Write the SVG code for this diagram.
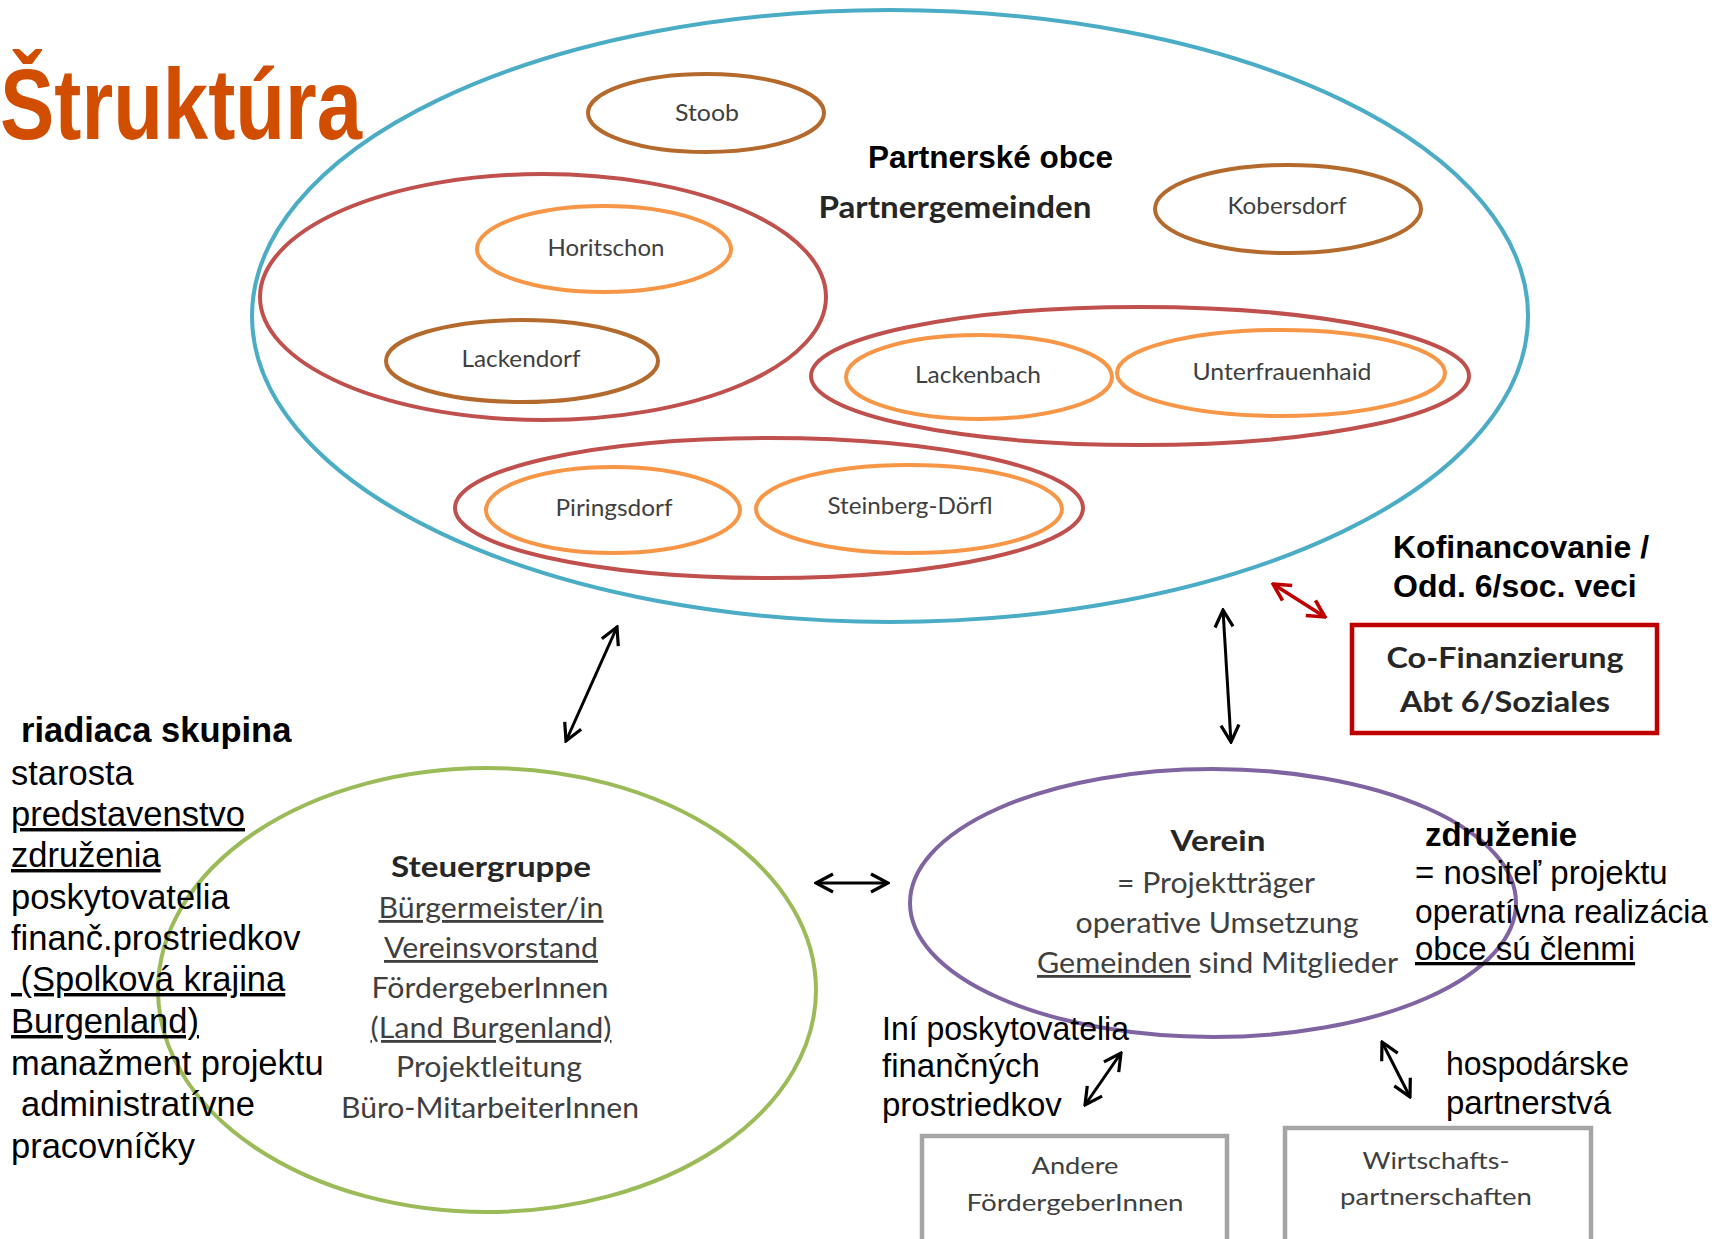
<svg xmlns="http://www.w3.org/2000/svg" width="1729" height="1239" viewBox="0 0 1729 1239">
<defs>
<style>
.cal{font-family:Lato,"Open Sans","Noto Sans",sans-serif;fill:#3f3f3f;text-anchor:middle}
.calb{font-family:Lato,"Open Sans","Noto Sans",sans-serif;font-weight:bold;fill:#262626;text-anchor:middle}
.ar{font-family:"Liberation Sans",Arial,sans-serif;fill:#000;font-size:34.5px}
.ar2{font-family:"Liberation Sans",Arial,sans-serif;fill:#000;font-size:33px}
.arb{font-family:"Liberation Sans",Arial,sans-serif;fill:#000;font-weight:bold}
.town{font-size:23px}
.big{fill:none;stroke-width:4}
.brown{fill:none;stroke:#B46A2C;stroke-width:4}
.orange{fill:none;stroke:#F79646;stroke-width:4}
.red{fill:none;stroke:#C0504D;stroke-width:4}
.conn{stroke:#000;stroke-width:3;fill:none}
.box{fill:#fff;stroke:#A5A5A5;stroke-width:4.5}
</style>
<marker id="ah" viewBox="0 0 24 24" refX="22" refY="12" markerWidth="24" markerHeight="24" markerUnits="userSpaceOnUse" orient="auto-start-reverse">
<path d="M5,3 L22,12 L5,21" fill="none" stroke="#000" stroke-width="3.2"/>
</marker>
<marker id="ahr" viewBox="0 0 24 24" refX="22" refY="12" markerWidth="24" markerHeight="24" markerUnits="userSpaceOnUse" orient="auto-start-reverse">
<path d="M5,3 L22,12 L5,21" fill="none" stroke="#C00000" stroke-width="3.6"/>
</marker>
</defs>
<rect width="1729" height="1239" fill="#fff"/>

<g id="partner-area">
<ellipse cx="890" cy="316" rx="638" ry="306" class="big" stroke="#4BACC6"/>
<text class="arb" x="868" y="168" font-size="31.5">Partnerské obce</text>
<text class="calb" x="955" y="218" font-size="30" textLength="273" lengthAdjust="spacingAndGlyphs" fill="#262626">Partnergemeinden</text>
</g>

<g id="title">
<text x="0" y="139" font-family="'Liberation Sans',Arial,sans-serif" font-weight="bold" font-size="100" fill="#D14D00" textLength="362" lengthAdjust="spacingAndGlyphs">Štruktúra</text>
</g>

<g id="stoob">
<ellipse cx="706" cy="113" rx="118" ry="39" class="brown"/>
<text class="cal town" x="707" y="121" textLength="64" lengthAdjust="spacingAndGlyphs">Stoob</text>
</g>
<g id="kobersdorf">
<ellipse cx="1288" cy="209" rx="133" ry="44" class="brown"/>
<text class="cal town" x="1287" y="214" textLength="119" lengthAdjust="spacingAndGlyphs">Kobersdorf</text>
</g>
<g id="group-horitschon-lackendorf">
<ellipse cx="543" cy="297" rx="283" ry="123" class="red"/>
<g id="horitschon">
<ellipse cx="604" cy="249" rx="127" ry="43" class="orange"/>
<text class="cal town" x="606" y="256" textLength="117" lengthAdjust="spacingAndGlyphs">Horitschon</text>
</g>
<g id="lackendorf">
<ellipse cx="522" cy="361" rx="136" ry="41" class="brown"/>
<text class="cal town" x="521" y="367" textLength="119" lengthAdjust="spacingAndGlyphs">Lackendorf</text>
</g>
</g>
<g id="group-lackenbach-unterfrauenhaid">
<ellipse cx="1140" cy="376" rx="329" ry="69" class="red"/>
<g id="lackenbach">
<ellipse cx="979" cy="377" rx="133" ry="42" class="orange"/>
<text class="cal town" x="978" y="383" textLength="126" lengthAdjust="spacingAndGlyphs">Lackenbach</text>
</g>
<g id="unterfrauenhaid">
<ellipse cx="1281" cy="373" rx="164" ry="43" class="orange"/>
<text class="cal town" x="1282" y="380" textLength="179" lengthAdjust="spacingAndGlyphs">Unterfrauenhaid</text>
</g>
</g>
<g id="group-piringsdorf-steinberg">
<ellipse cx="769" cy="508" rx="314" ry="70" class="red"/>
<g id="piringsdorf">
<ellipse cx="613" cy="510" rx="127" ry="43" class="orange"/>
<text class="cal town" x="614" y="516" textLength="117" lengthAdjust="spacingAndGlyphs">Piringsdorf</text>
</g>
<g id="steinberg">
<ellipse cx="909" cy="509" rx="153" ry="44" class="orange"/>
<text class="cal town" x="910" y="514" textLength="165" lengthAdjust="spacingAndGlyphs">Steinberg-Dörfl</text>
</g>
</g>

<g id="kofinancovanie-label">
<text class="arb" x="1393" y="558" font-size="32">Kofinancovanie /</text>
<text class="arb" x="1393" y="597" font-size="32">Odd. 6/soc. veci</text>
</g>
<g id="co-finanzierung">
<rect x="1352" y="625" width="305" height="108" fill="#fff" stroke="#C00000" stroke-width="4.5"/>
<text class="calb" x="1505" y="668" font-size="29" textLength="237" lengthAdjust="spacingAndGlyphs">Co-Finanzierung</text>
<text class="calb" x="1505" y="712" font-size="29" textLength="210" lengthAdjust="spacingAndGlyphs">Abt 6/Soziales</text>
</g>

<g id="steuergruppe">
<ellipse cx="487" cy="990" rx="329" ry="222" fill="none" stroke="#9BBB59" stroke-width="4"/>
<text class="calb" x="491" y="877" font-size="28" textLength="200" lengthAdjust="spacingAndGlyphs">Steuergruppe</text>
<text class="cal" x="491" y="918" font-size="28" text-decoration="underline" textLength="225" lengthAdjust="spacingAndGlyphs">Bürgermeister/in</text>
<text class="cal" x="491" y="958" font-size="28" text-decoration="underline" textLength="214" lengthAdjust="spacingAndGlyphs">Vereinsvorstand</text>
<text class="cal" x="490" y="998" font-size="28" textLength="237" lengthAdjust="spacingAndGlyphs">FördergeberInnen</text>
<text class="cal" x="491" y="1038" font-size="28" text-decoration="underline" textLength="241" lengthAdjust="spacingAndGlyphs">(Land Burgenland)</text>
<text class="cal" x="489" y="1077" font-size="28" textLength="186" lengthAdjust="spacingAndGlyphs">Projektleitung</text>
<text class="cal" x="490" y="1118" font-size="28" textLength="298" lengthAdjust="spacingAndGlyphs">Büro-MitarbeiterInnen</text>
</g>

<g id="riadiaca-label">
<text class="arb" x="21" y="742" font-size="34.5">riadiaca skupina</text>
<text class="ar" x="11" y="785">starosta</text>
<text class="ar" x="11" y="826" text-decoration="underline">predstavenstvo</text>
<text class="ar" x="11" y="867" text-decoration="underline">združenia</text>
<text class="ar" x="11" y="909">poskytovatelia</text>
<text class="ar" x="11" y="950">finanč.prostriedkov</text>
<text class="ar" x="11" y="991" text-decoration="underline" xml:space="preserve"> (Spolková krajina</text>
<text class="ar" x="11" y="1033" text-decoration="underline">Burgenland)</text>
<text class="ar" x="11" y="1075">manažment projektu</text>
<text class="ar" x="21" y="1116">administratívne</text>
<text class="ar" x="11" y="1158">pracovníčky</text>
</g>

<g id="verein">
<ellipse cx="1213" cy="903" rx="303" ry="134" fill="none" stroke="#8064A2" stroke-width="4"/>
<text class="calb" x="1218" y="851" font-size="28" textLength="95" lengthAdjust="spacingAndGlyphs">Verein</text>
<text class="cal" x="1216" y="893" font-size="28" textLength="198" lengthAdjust="spacingAndGlyphs">= Projektträger</text>
<text class="cal" x="1217" y="933" font-size="28" textLength="283" lengthAdjust="spacingAndGlyphs">operative Umsetzung</text>
<text class="cal" x="1037" y="973" font-size="28" style="text-anchor:start" textLength="361" lengthAdjust="spacingAndGlyphs"><tspan text-decoration="underline">Gemeinden</tspan> sind Mitglieder</text>
</g>

<g id="zdruzenie-label">
<text class="arb" x="1425" y="846" font-size="33">združenie</text>
<text class="ar2" x="1415" y="884">= nositeľ projektu</text>
<text class="ar2" x="1415" y="923" textLength="293" lengthAdjust="spacingAndGlyphs">operatívna realizácia</text>
<text class="ar2" x="1415" y="960" text-decoration="underline">obce sú členmi</text>
</g>

<g id="ini-label">
<text class="ar2" x="882" y="1040" textLength="247" lengthAdjust="spacingAndGlyphs">Iní poskytovatelia</text>
<text class="ar2" x="882" y="1077">finančných</text>
<text class="ar2" x="882" y="1116">prostriedkov</text>
</g>
<g id="hosp-label">
<text class="ar2" x="1446" y="1075" textLength="183" lengthAdjust="spacingAndGlyphs">hospodárske</text>
<text class="ar2" x="1446" y="1114">partnerstvá</text>
</g>

<g id="andere">
<rect x="922" y="1136" width="305" height="120" class="box"/>
<text class="cal" x="1075" y="1174" font-size="24" textLength="87" lengthAdjust="spacingAndGlyphs">Andere</text>
<text class="cal" x="1075" y="1211" font-size="24" textLength="217" lengthAdjust="spacingAndGlyphs">FördergeberInnen</text>
</g>
<g id="wirtschaft">
<rect x="1285" y="1128" width="306" height="126" class="box"/>
<text class="cal" x="1436" y="1169" font-size="24" textLength="147" lengthAdjust="spacingAndGlyphs">Wirtschafts-</text>
<text class="cal" x="1436" y="1205" font-size="24" textLength="192" lengthAdjust="spacingAndGlyphs">partnerschaften</text>
</g>

<g id="connectors">
<line x1="617" y1="627" x2="566" y2="741" class="conn" marker-start="url(#ah)" marker-end="url(#ah)"/>
<line x1="1223" y1="610" x2="1231" y2="742" class="conn" marker-start="url(#ah)" marker-end="url(#ah)"/>
<line x1="816" y1="883" x2="888" y2="883" class="conn" marker-start="url(#ah)" marker-end="url(#ah)"/>
<line x1="1121" y1="1053" x2="1085" y2="1105" class="conn" marker-start="url(#ah)" marker-end="url(#ah)"/>
<line x1="1382" y1="1042" x2="1410" y2="1097" class="conn" marker-start="url(#ah)" marker-end="url(#ah)"/>
<line x1="1273" y1="584" x2="1325" y2="617" stroke="#C00000" stroke-width="3.6" marker-start="url(#ahr)" marker-end="url(#ahr)"/>
</g>
</svg>
